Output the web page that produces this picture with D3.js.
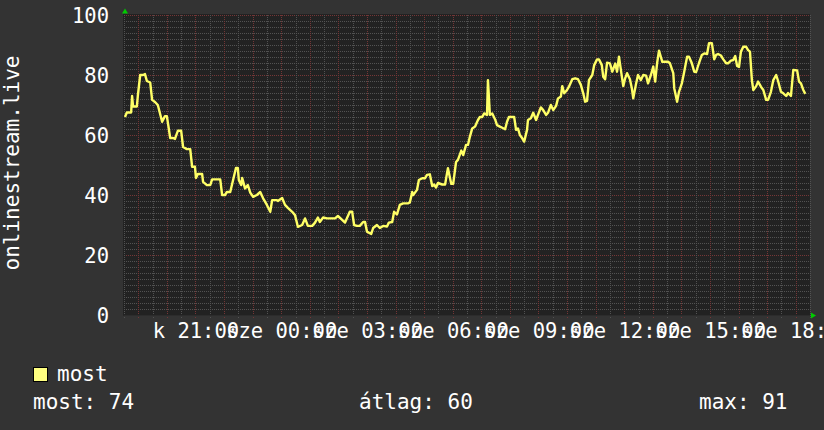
<!DOCTYPE html>
<html>
<head>
<meta charset="utf-8">
<script src="https://cdn.jsdelivr.net/npm/d3@7"></script>
<style>
  html, body { margin: 0; padding: 0; background: #333333; }
  text { font-family: "DejaVu Sans Mono", monospace; fill: #ffffff; }
</style>
</head>
<body>
<div id="chart"></div>
<script>
// minutes after the graph start (k 18:30) and the viewer count read at that time
var minutes = [2, 6, 15, 17, 19, 27, 29, 34, 40, 44, 48, 55, 59, 65, 71, 80, 86, 90, 97, 103,
    107, 113, 120, 124, 132, 139, 143, 149, 151, 155, 164, 166, 174, 181, 185, 202, 206, 212, 216, 223,
    229, 235, 239, 241, 246, 248, 254, 260, 265, 271, 279, 286, 292, 300, 307, 311, 321, 323, 332, 338,
    344, 353, 359, 365, 374, 380, 386, 395, 401, 407, 411, 418, 426, 443, 449, 458, 464, 474, 479, 483,
    489, 495, 502, 506, 510, 519, 523, 531, 537, 544, 552, 556, 563, 567, 573, 579, 586, 596, 600, 605,
    607, 615, 619, 626, 632, 636, 642, 647, 651, 655, 659, 668, 674, 678, 680, 687, 691, 697, 701, 708,
    712, 718, 722, 726, 731, 737, 743, 747, 752, 756, 762, 764, 768, 773, 779, 783, 789, 794, 800, 804,
    808, 819, 823, 827, 831, 836, 840, 846, 848, 854, 859, 865, 869, 875, 880, 886, 890, 896, 901, 907,
    911, 917, 920, 924, 930, 934, 941, 947, 953, 959, 964, 968, 972, 976, 983, 987, 993, 997, 1003, 1006,
    1010, 1014, 1020, 1025, 1031, 1035, 1039, 1043, 1048, 1052, 1056, 1062, 1066, 1069, 1075, 1079, 1085, 1090, 1096, 1100,
    1106, 1111, 1115, 1119, 1123, 1130, 1142, 1146, 1153, 1155, 1161, 1165, 1171, 1176, 1182, 1186, 1192, 1197, 1201, 1207,
    1213, 1218, 1224, 1228, 1234, 1239, 1243, 1247, 1253, 1258, 1264, 1268, 1274, 1279, 1283, 1287, 1291, 1295, 1300, 1306,
    1310, 1314, 1318, 1321, 1327, 1331, 1337, 1342, 1348, 1352, 1358, 1363, 1369, 1373, 1379, 1384, 1390, 1394, 1400, 1405,
    1413, 1417, 1421, 1426, 1430];
var viewers = [66, 67.5, 67.5, 73, 69.5, 69.5, 73, 80, 80, 80.3, 78, 77.5, 71.7, 71, 70, 64.4, 66.3, 66.3, 59, 59,
    58.7, 61.4, 61.4, 56, 55.3, 55.3, 49.4, 49.4, 45.7, 47, 47, 44.4, 43.3, 43.3, 45.2, 45.2, 40, 40, 41, 41,
    45, 49, 49, 45, 43.3, 45.7, 42.2, 43.3, 40.8, 39.4, 40, 41, 38.9, 36.7, 34.4, 38.3, 38.3, 38, 39, 36.7,
    35.7, 34.4, 33.3, 29.4, 30, 32.2, 29.7, 29.7, 30.8, 32.5, 31, 32.5, 32.2, 32.2, 33, 31.7, 30.8, 34.4, 34.4, 30,
    29.7, 29.7, 31, 31, 27.8, 27, 29, 30, 29, 29.7, 29.5, 30.8, 31, 34.4, 33.5, 36.7, 37.2, 37.2, 37.5, 41,
    40, 41.7, 45, 45.6, 45.6, 46.7, 46.9, 43, 43.5, 42.5, 44, 43.5, 43.5, 47.2, 48.9, 43.7, 43.7, 51, 51.7, 54.8,
    53.3, 56.7, 56.7, 59.4, 62.2, 62.8, 65, 66, 66, 67.2, 66.7, 78.3, 66.7, 67.2, 65.2, 63.3, 62.8, 62.4, 61.9, 64.4,
    66, 66, 61.7, 62.2, 60, 58.9, 57.8, 61.7, 65, 65.6, 67.4, 65, 66.7, 69.2, 68.3, 66.7, 67.4, 70, 68.3, 69.7,
    72.2, 72.8, 76.3, 73.9, 75, 76.1, 78.6, 78.9, 78.6, 76.7, 73.9, 71.1, 71.4, 78.3, 80, 83.3, 85.2, 85.2, 83.3, 79.4,
    78.6, 84.1, 83.9, 81.1, 83.8, 81.1, 86.1, 81.7, 76.3, 78.9, 80.6, 78.6, 75.6, 72.2, 77.2, 80, 78.3, 80, 79.8, 77.2,
    80, 82.8, 77.8, 83.9, 88.1, 84.4, 84.4, 83.9, 80.6, 75.6, 71.1, 74.4, 77.2, 81.1, 86.1, 86.1, 83.9, 81.1, 81, 84,
    86.7, 87.2, 87, 90.6, 90.6, 85.2, 86.7, 87, 86.5, 85.2, 83.9, 83.9, 84.8, 85, 86.3, 83, 82.7, 87.8, 89.4, 89.4,
    88.3, 87.8, 78.3, 75, 76.3, 77.8, 76.1, 75, 71.7, 71.7, 74.4, 78.3, 80, 78, 74.4, 73.9, 73, 74, 73, 81.7,
    81.5, 77.8, 77.2, 75, 73.7];

var yTicks = [0, 20, 40, 60, 80, 100];
var axisTitle = "onlinestream.live";
var legendName = "most";
var statLabels = ["most: 74", "átlag: 60", "max: 91"];

var width = 824,
    height = 430;

var start = new Date(2023, 4, 16, 18, 30),
    end = new Date(2023, 4, 17, 18, 30);

var data = minutes.map(function (m, i) {
    return {t: d3.timeMinute.offset(start, m), v: viewers[i]};
});

var hu = d3.timeFormatLocale({
    dateTime: "%Y. %B %-e., %A %X",
    date: "%Y. %m. %d.",
    time: "%H:%M:%S",
    periods: ["de.", "du."],
    days: ["vasárnap", "hétfő", "kedd", "szerda", "csütörtök", "péntek", "szombat"],
    shortDays: ["v", "h", "k", "sze", "cs", "p", "szo"],
    months: ["január", "február", "március", "április", "május", "június", "július", "augusztus", "szeptember", "október", "november", "december"],
    shortMonths: ["jan", "feb", "már", "ápr", "máj", "jún", "júl", "aug", "szep", "okt", "nov", "dec"]
});
var fmt = hu.format("%a %H:%M");

var x = d3.scaleTime().domain([start, end]).range([124, 810]);
var y = d3.scaleLinear().domain([0, 100]).range([315, 15]);

var svg = d3.select("#chart")
    .append("svg")
    .attr("width", width)
    .attr("height", height);

svg.append("rect")
    .attr("width", width)
    .attr("height", height)
    .attr("fill", "#333333");

// canvas
svg.append("rect")
    .attr("x", x.range()[0] - 1)
    .attr("y", y(100) - 1)
    .attr("width", x.range()[1] - x.range()[0] + 1)
    .attr("height", y(0) - y(100) + 2)
    .attr("fill", "#222222");

var grid = svg.append("g");
var minorCol = "#525252",
    majorCol = "#743636";

// horizontal grid
d3.range(0, 101, 2).forEach(function (v) {
    var yy = Math.round(y(v)) + 0.5;
    grid.append("line")
        .attr("x1", x.range()[0]).attr("x2", x.range()[1])
        .attr("y1", yy).attr("y2", yy)
        .attr("stroke", v % 20 === 0 ? majorCol : minorCol)
        .attr("stroke-dasharray", "1,1");
});

// vertical grid, half hours gray and hours red
x.ticks(d3.timeMinute.every(30)).forEach(function (t) {
    var xx = Math.round(x(t)) + 0.5;
    var major = t.getMinutes() === 0;
    grid.append("line")
        .attr("x1", xx).attr("x2", xx)
        .attr("y1", y(100)).attr("y2", y(0) + 4)
        .attr("stroke", major ? majorCol : minorCol)
        .attr("stroke-dasharray", "1,1");
});

// axis lines and arrows
svg.append("line")
    .attr("x1", x.range()[0] - 0.5).attr("x2", x.range()[1])
    .attr("y1", y(0) + 0.5).attr("y2", y(0) + 0.5)
    .attr("stroke", "#2c2c2c");
svg.append("path")
    .attr("d", "M" + (x.range()[0] - 2) + "," + (y(100) - 1.5) + "L" + (x.range()[0] + 4) + "," + (y(100) - 1.5) +
        "L" + (x.range()[0] + 1) + "," + (y(100) - 6.5) + "Z")
    .attr("fill", "#00cc00");
svg.append("path")
    .attr("d", "M" + (x.range()[1] + 1) + "," + (y(0) - 2.5) + "L" + (x.range()[1] + 1) + "," + (y(0) + 3.5) +
        "L" + (x.range()[1] + 6) + "," + (y(0) + 0.5) + "Z")
    .attr("fill", "#00cc00");

// data line
svg.append("path")
    .datum(data)
    .attr("d", d3.line()
        .x(function (d) { return x(d.t); })
        .y(function (d) { return y(d.v); }))
    .attr("fill", "none")
    .attr("stroke", "#ffff66")
    .attr("stroke-width", 2.4)
    .attr("stroke-linejoin", "round");

// y labels
var yAxis = svg.append("g")
    .attr("transform", "translate(109,0)")
    .call(d3.axisLeft(y).tickValues(yTicks).tickSize(0).tickPadding(0));
yAxis.select(".domain").remove();
yAxis.selectAll("text")
    .attr("font-size", 20.5)
    .attr("dy", "0.36em")
    .attr("fill", "#ffffff");

// x labels
var xAxis = svg.append("g")
    .attr("transform", "translate(0,322)")
    .call(d3.axisBottom(x).ticks(d3.timeHour.every(3)).tickFormat(fmt).tickSize(0).tickPadding(0));
xAxis.select(".domain").remove();
xAxis.selectAll("text")
    .attr("font-size", 20.5)
    .attr("dy", "0.76em")
    .attr("fill", "#ffffff");
svg.selectAll(".tick text").attr("font-family", "DejaVu Sans Mono");

// vertical title
svg.append("text")
    .attr("transform", "translate(19,163) rotate(-90)")
    .attr("text-anchor", "middle")
    .attr("font-size", 21)
    .text(axisTitle);

// legend
svg.append("rect")
    .attr("x", 33.5).attr("y", 367.5)
    .attr("width", 14).attr("height", 14)
    .attr("fill", "#ffff80")
    .attr("stroke", "#000000");
svg.append("text")
    .attr("x", 57).attr("y", 381)
    .attr("font-size", 21)
    .text(legendName);

var statX = [33, 359, 699];
svg.selectAll(".stat")
    .data(statLabels)
    .enter().append("text")
    .attr("class", "stat")
    .attr("x", function (d, i) { return statX[i]; })
    .attr("y", 409)
    .attr("font-size", 21)
    .text(function (d) { return d; });
</script>
</body>
</html>
